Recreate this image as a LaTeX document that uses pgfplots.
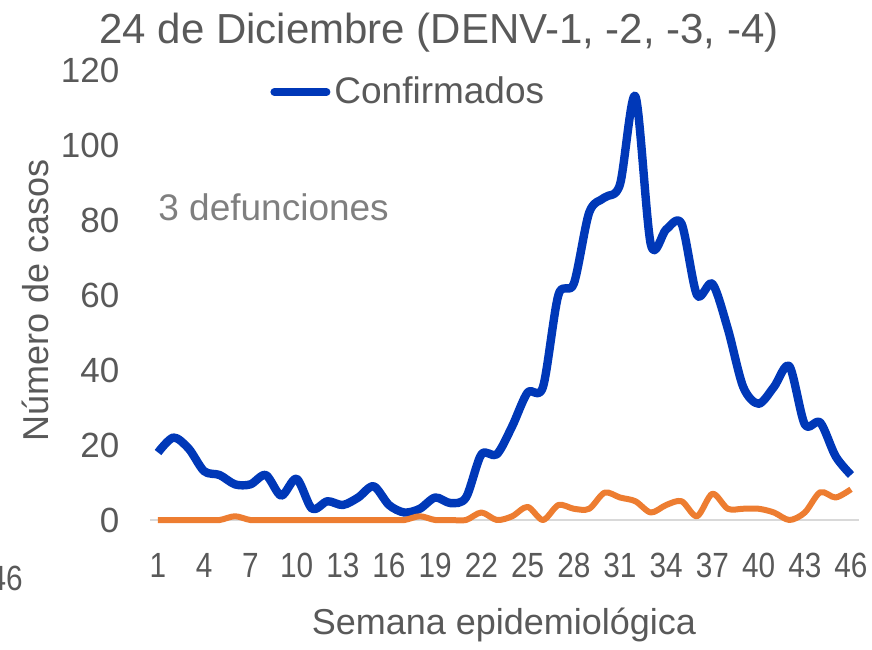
\documentclass[border=0pt]{standalone}
\usepackage{pgfplots}
\pgfplotsset{compat=1.18}
\usepackage{fontspec}
\setmainfont{Liberation Sans}
\newfontfamily\narrowfont[FakeStretch=0.85]{Liberation Sans}
\definecolor{txt}{HTML}{595959}
\definecolor{blueline}{HTML}{0038B8}
\definecolor{orangeline}{HTML}{ED7D31}
\definecolor{lgray}{HTML}{7F7F7F}
\definecolor{axisgray}{HTML}{D9D9D9}
\begin{document}
\begin{tikzpicture}
\useasboundingbox (0,0) rectangle (436pt,324.5pt);
\begin{axis}[
  at={(75.15pt,64.5pt)}, anchor=south west,
  scale only axis, width=354.2pt, height=225pt,
  xmin=0.5, xmax=46.5, ymin=0, ymax=120,
  xtick={1,4,...,46}, ytick={0,20,...,120},
  axis x line*=bottom, axis y line*=left,
  x axis line style={draw=axisgray, line width=1pt, -},
  y axis line style={draw=none},
  major tick length=0pt,
  tick style={draw=none},
  /pgf/number format/assume math mode=true,
  xticklabel style={font=\narrowfont\fontsize{17.5}{20}\selectfont, text=txt, yshift=-13pt},
  yticklabel style={font=\fontsize{17.5}{20}\selectfont, text=txt, xshift=-12pt},
  clip=false,
  legend style={at={(0.169,0.951)}, anchor=west, draw=none, fill=none,
    font=\fontsize{18.5}{22}\selectfont, text=txt, inner sep=0pt},
  legend image code/.code={\draw[#1, line width=4pt, line cap=round] (0pt,0pt) -- (26pt,0pt);},
]
\addplot[blueline, line width=4.2pt, smooth, line join=round] table {
x y
1 18
2 22
3 19
4 13
5 12
6 9.5
7 9.5
8 12
9 6.5
10 11
11 3
12 5
13 4
14 6
15 9
16 4
17 2
18 3
19 6
20 4.5
21 6
22 17.5
23 17.5
24 25
25 34
26 35.5
27 60
28 63
29 82
30 86
31 89.5
32 113
33 73.5
34 77.5
35 79
36 60
37 63
38 51
39 35.5
40 31
41 35.5
42 41
43 25.5
44 26
45 17
46 12
};
\addlegendentry{Confirmados}
\addplot[orangeline, line width=3pt, smooth, line join=round, forget plot] table {
x y
1 0
2 0
3 0
4 0
5 0
6 1
7 0
8 0
9 0
10 0
11 0
12 0
13 0
14 0
15 0
16 0
17 0
18 1
19 0
20 0
21 0
22 2
23 0
24 1
25 3.5
26 0
27 4
28 3
29 3
30 7.3
31 6
32 5
33 2
34 4
35 5
36 1
37 7
38 3
39 3
40 3
41 2
42 0
43 2
44 7.4
45 6
46 8.2
};
\end{axis}
\node[anchor=base, text=txt, font=\fontsize{21}{25}\selectfont] at (219.5pt,302.5pt) {24 de Diciembre (DENV-1, -2, -3, -4)};
\node[anchor=base, text=txt, font=\fontsize{18}{22}\selectfont] at (252pt,7.5pt) {Semana epidemiológica};
\node[rotate=90, text=txt, font=\fontsize{18}{22}\selectfont] at (17.5pt,174.5pt) {Número de casos};
\node[anchor=base west, inner sep=0pt, text=lgray, font=\fontsize{18.5}{22}\selectfont] at (79pt,214.5pt) {3 defunciones};
\node[anchor=base east, inner sep=0pt, text=txt, font=\narrowfont\fontsize{17.5}{20}\selectfont] at (11.5pt,29.5pt) {46};
\end{tikzpicture}
\end{document}
